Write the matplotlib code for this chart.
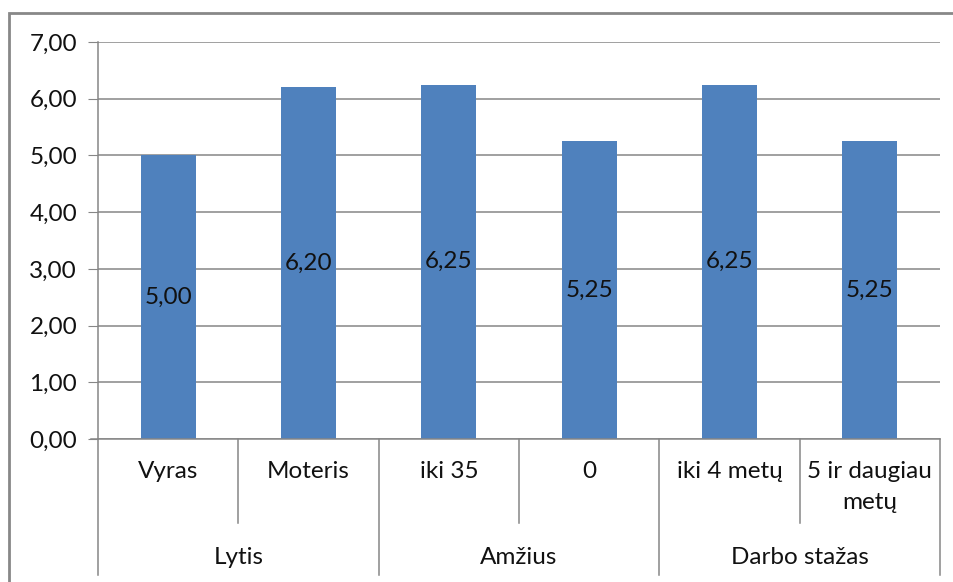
import matplotlib
matplotlib.use('Agg')
import matplotlib.pyplot as plt
from matplotlib.lines import Line2D
from matplotlib.patches import Rectangle
from matplotlib.ticker import FuncFormatter

categories = ['Vyras', 'Moteris', 'iki 35', '0', 'iki 4 metų', '5 ir daugiau\nmetų']
groups = ['Lytis', 'Amžius', 'Darbo stažas']
group_sizes = [2, 2, 2]
values = [5.00, 6.20, 6.25, 5.25, 6.25, 5.25]

plt.rcParams['font.family'] = ['Lato', 'DejaVu Sans']
W, H = 954, 582
fig = plt.figure(figsize=(W / 100, H / 100), dpi=100)

left, right, top, bottom = 98, 940, 42, 439
ax = fig.add_axes([left / W, 1 - bottom / H, (right - left) / W, (bottom - top) / H])

grid_col = '#868686'
fs = 17.5

x = list(range(len(categories)))
bars = ax.bar(x, values, width=0.39, color='#4F81BD', zorder=3)
for xi, v in zip(x, values):
    ax.text(xi, v / 2, f'{v:.2f}'.replace('.', ','), ha='center', va='center',
            fontsize=fs, color='#111111', zorder=4)

ax.set_xlim(-0.5, len(categories) - 0.5)
ax.set_ylim(0, 7)
ax.set_yticks(range(8))
ax.yaxis.set_major_formatter(FuncFormatter(lambda v, p: f'{v:.2f}'.replace('.', ',')))
ax.tick_params(axis='y', labelsize=fs, length=7, color=grid_col, pad=8, labelcolor='#111111')
ax.set_xticks([])
ax.yaxis.grid(True, color=grid_col, linewidth=1.1, zorder=0)
for s in ['top', 'right', 'bottom']:
    ax.spines[s].set_visible(False)
ax.spines['left'].set_color(grid_col)
ax.spines['left'].set_linewidth(1.1)

# horizontal axis line (extends left like a tick)
ax.add_line(Line2D([-0.5 - 7 / 140.3, len(categories) - 0.5], [0, 0],
                   transform=ax.get_xaxis_transform(), color=grid_col, lw=1.1,
                   clip_on=False, zorder=5))

axh = bottom - top
def ay(py):
    return (bottom - py) / axh

trans = ax.get_xaxis_transform()
# category labels and separators
inner_end = ay(523)
outer_end = ay(575)
pos = -0.5
for g, n in zip(groups, group_sizes):
    ax.add_line(Line2D([pos, pos], [0, outer_end], transform=trans, color=grid_col,
                       lw=1.1, clip_on=False))
    for k in range(1, n):
        ax.add_line(Line2D([pos + k, pos + k], [0, inner_end], transform=trans,
                           color=grid_col, lw=1.1, clip_on=False))
    ax.text(pos + n / 2, ay(557), g, transform=trans, ha='center', va='center',
            fontsize=fs, color='#111111')
    pos += n
ax.add_line(Line2D([pos, pos], [0, outer_end], transform=trans, color=grid_col,
                   lw=1.1, clip_on=False))

for xi, c in zip(x, categories):
    ax.text(xi, ay(461), c, transform=trans, ha='center', va='top',
            fontsize=fs, color='#111111', linespacing=1.6)

# outer chart border (cropped at right and bottom)
fig.add_artist(Rectangle((9.5 / W, -0.1), 1.2, 1 - 12.5 / H + 0.1, transform=fig.transFigure,
                         fill=False, edgecolor='#888888', lw=2))

fig.savefig('out.png', dpi=100)
